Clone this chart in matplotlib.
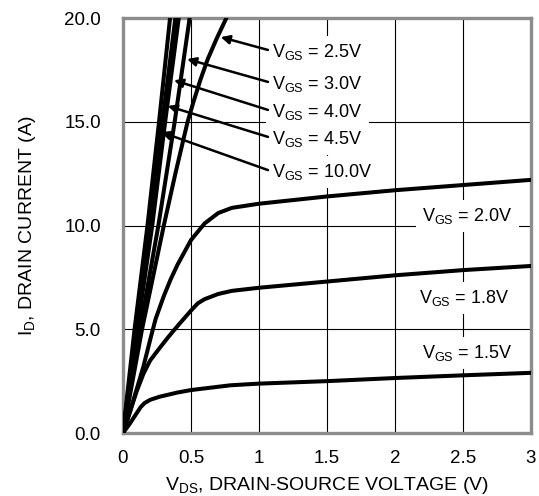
import matplotlib
matplotlib.use("Agg")
import matplotlib.pyplot as plt
import numpy as np

plt.rcParams['font.family'] = ['Liberation Sans', 'DejaVu Sans']
plt.rcParams['mathtext.fontset'] = 'custom'
plt.rcParams['mathtext.rm'] = 'Liberation Sans'
plt.rcParams['mathtext.it'] = 'Liberation Sans'

# low-current curves (VGS = 1.5, 1.8, 2.0 V)
vds_15 = [0, 0.05, 0.09, 0.13, 0.16, 0.2, 0.27, 0.4, 0.5, 0.79, 1.0, 1.5, 2.0, 2.5, 3.0]
id_15 = [0, 0.45, 0.85, 1.25, 1.45, 1.6, 1.75, 1.95, 2.07, 2.3, 2.38, 2.5, 2.65, 2.78, 2.9]
vds_18 = [0, 0.05, 0.1, 0.15, 0.2, 0.27, 0.33, 0.4, 0.5, 0.55, 0.6, 0.7, 0.8, 1.0, 1.5, 2.0, 2.5, 3.0]
id_18 = [0, 1.0, 2.0, 2.85, 3.5, 4.1, 4.6, 5.15, 5.9, 6.25, 6.45, 6.7, 6.85, 7.0, 7.3, 7.6, 7.85, 8.05]
vds_20 = [0, 0.05, 0.1, 0.15, 0.2, 0.24, 0.3, 0.35, 0.4, 0.5, 0.6, 0.7, 0.8, 1.0, 1.5, 2.0, 2.5, 3.0]
id_20 = [0, 1.0, 2.1, 3.2, 4.5, 5.5, 6.6, 7.4, 8.1, 9.3, 10.1, 10.6, 10.85, 11.05, 11.4, 11.7, 11.95, 12.2]

# high-gate curves, current levels and the drain voltage for each
id_hi = [0, 5, 10, 15, 20]
vds_100 = [0, 0.085, 0.18, 0.265, 0.346]
vds_45 = [0, 0.095, 0.2, 0.29, 0.385]
vds_40 = [0, 0.105, 0.215, 0.31, 0.41]
vds_30 = [0, 0.125, 0.26, 0.38, 0.49]
id_25 = [0, 5, 10, 12.5, 15, 16, 17, 18, 19, 20]
vds_25 = [0, 0.14, 0.30, 0.385, 0.475, 0.52, 0.568, 0.622, 0.688, 0.76]

hi_labels = ['2.5V', '3.0V', '4.0V', '4.5V', '10.0V']
hi_curves = [(vds_25, id_25), (vds_30, id_hi), (vds_40, id_hi), (vds_45, id_hi), (vds_100, id_hi)]
arrow_y = [19.08, 18.02, 17.0, 15.76, 14.5]
tail_y = [18.46, 16.92, 15.57, 14.27, 12.67]

lo_labels = ['2.0V', '1.8V', '1.5V']
lo_pos = [(2.2, 10.45), (2.18, 6.5), (2.2, 3.85)]

fig = plt.figure(figsize=(5.39, 4.96), dpi=100)
ax = fig.add_axes([0.2282, 0.127, 0.757, 0.8367])

lw = 2.9
for vx, iy in [(vds_15, id_15), (vds_18, id_18), (vds_20, id_20)]:
    ax.plot(vx, iy, color='black', lw=lw, solid_capstyle='round', zorder=4.5)
for vx, iy in hi_curves:
    ax.plot(vx, iy, color='black', lw=lw, solid_capstyle='round', zorder=4.5)

ax.set_xlim(0, 3)
ax.set_ylim(0, 20)
ax.set_xticks([0, 0.5, 1, 1.5, 2, 2.5, 3])
ax.set_xticklabels(['0', '0.5', '1', '1.5', '2', '2.5', '3'])
ax.set_yticks([0, 5, 10, 15, 20])
ax.set_yticklabels(['0.0', '5.0', '10.0', '15.0', '20.0'])
ax.tick_params(length=0, labelsize=13.5)
ax.tick_params(axis='y', pad=16)
ax.tick_params(axis='x', pad=12)
for x in [0.5, 1, 1.5, 2, 2.5]:
    ax.axvline(x, color='black', lw=0.8, zorder=1)
for y in [5, 10, 15]:
    ax.axhline(y, color='black', lw=0.8, zorder=1)
for s in ax.spines.values():
    s.set_color('#8c8c8c')
    s.set_linewidth(2.4)

ax.set_xlabel('V$_\\mathregular{DS}$, DRAIN-SOURCE VOLTAGE (V)', fontsize=14, labelpad=6)
ax.set_ylabel('I$_\\mathregular{D}$, DRAIN CURRENT (A)', fontsize=14, labelpad=19)

box = dict(boxstyle='square,pad=0.35', fc='white', ec='none')
for lab, (vx, iy), ya, yt in zip(hi_labels, hi_curves, arrow_y, tail_y):
    xt = np.interp(ya, iy, vx) + 0.025
    ax.text(1.095, yt - 0.1, 'V$_\\mathregular{GS}$ = ' + lab, fontsize=13,
            va='center', ha='left', bbox=box, zorder=4)
    ax.annotate('', xy=(xt, ya), xytext=(1.066, yt),
                arrowprops=dict(arrowstyle='-|>', color='black', lw=1.8,
                                mutation_scale=13, shrinkA=0, shrinkB=0),
                zorder=5)

for lab, (x, y) in zip(lo_labels, lo_pos):
    ax.text(x, y, 'V$_\\mathregular{GS}$ = ' + lab, fontsize=13,
            va='center', ha='left', bbox=box, zorder=4)

fig.savefig('out.png', dpi=100)
